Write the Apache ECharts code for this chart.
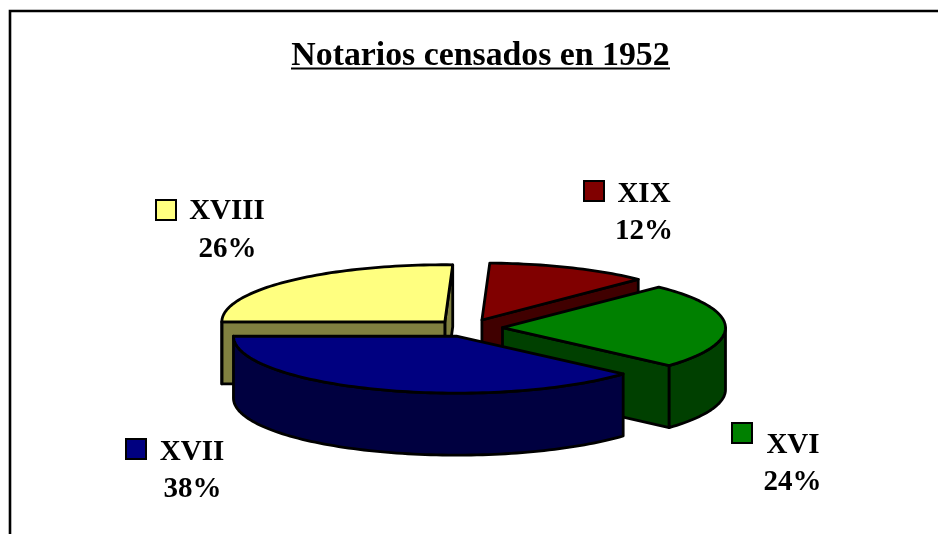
<!DOCTYPE html>
<html>
<head>
<meta charset="utf-8">
<style>html,body{margin:0;padding:0;background:#fff}#chart{width:938px;height:534px}</style>
<script src="https://cdn.jsdelivr.net/npm/echarts@6/dist/echarts.min.js"></script>
</head>
<body>
<div id="chart"></div>
<script>
// Data (clockwise from the first slice)
const titleText = 'Notarios censados en 1952';
const categories = ['XVI', 'XVII', 'XVIII', 'XIX'];
const shares = [24.2, 38.4, 25.6, 11.8];
const topColors = ['#008000', '#000080', '#FFFF80', '#800000'];
const sideColors = ['#004000', '#000040', '#808040', '#400000'];

// Layout of the tilted, exploded pie
const pie = { cx: 468.5, cy: 328, rx: 223, ry: 57, depth: 62, explode: 34, startAngle: 45.5 };
const FONT_LABEL = 'bold 29px "Liberation Serif", serif';
const OUTLINE = { stroke: '#000', lineWidth: 2.8, lineJoin: 'round' };

// Legend-key and text anchors per slice (swatch left/top, name x/y, percent x/y)
const labelLayout = [
  { sx: 732, sy: 423, nx: 793, ny: 445.5, px: 792.5, py: 483 },
  { sx: 126, sy: 439, nx: 192, ny: 452.5, px: 192.5, py: 490 },
  { sx: 156, sy: 200, nx: 227, ny: 211.5, px: 227.5, py: 250 },
  { sx: 584, sy: 181, nx: 644, ny: 194.5, px: 644, py: 232 }
];
const SWATCH = 20;

const total = shares.reduce(function (a, b) { return a + b; }, 0);
let running = pie.startAngle;
const slices = shares.map(function (v, i) {
  const span = v / total * 360;
  const s = { index: i, from: running - span, to: running };
  running -= span;
  s.mid = (s.from + s.to) / 2;
  return s;
});
function rad(d) { return d * Math.PI / 180; }
function project(ox, oy, deg, r) {
  return [ox + Math.cos(rad(deg)) * pie.rx * r, oy - Math.sin(rad(deg)) * pie.ry * r];
}
function arc(ox, oy, from, to) {
  const pts = [];
  const n = Math.max(2, Math.ceil(Math.abs(to - from) / 1.5));
  for (let k = 0; k <= n; k++) pts.push(project(ox, oy, from + (to - from) * k / n, 1));
  return pts;
}
// back slices are painted first
const paintOrder = slices.slice().sort(function (a, b) {
  return Math.sin(rad(b.mid)) - Math.sin(rad(a.mid));
});

function poly(points, fill) {
  return { type: 'polygon', shape: { points: points }, style: Object.assign({ fill: fill }, OUTLINE) };
}
function wallBetween(a, b, fill) {
  return poly([a, b, [b[0], b[1] + pie.depth], [a[0], a[1] + pie.depth]], fill);
}

function renderSlice(params, api) {
  const s = paintOrder[api.value(0)];
  const side = sideColors[s.index], top = topColors[s.index];
  const ox = pie.cx + Math.cos(rad(s.mid)) * pie.explode;
  const oy = pie.cy - Math.sin(rad(s.mid)) * pie.explode * pie.ry / pie.rx;
  const apex = [ox, oy];
  const children = [];
  // straight cut walls, only those facing the viewer
  if (Math.cos(rad(s.from)) > 0.001) children.push(wallBetween(apex, project(ox, oy, s.from, 1), side));
  if (Math.cos(rad(s.to)) < -0.001) children.push(wallBetween(apex, project(ox, oy, s.to, 1), side));
  // rim wall: only the part that faces the viewer (angles -180..0)
  for (const shift of [0, -360, 360]) {
    const a = Math.max(s.from + shift, -180), b = Math.min(s.to + shift, 0);
    if (b > a) {
      const upper = arc(ox, oy, a, b);
      const lower = upper.map(function (p) { return [p[0], p[1] + pie.depth]; }).reverse();
      children.push(poly(upper.concat(lower), side));
    }
  }
  // top face
  children.push(poly([apex].concat(arc(ox, oy, s.from, s.to)), top));
  return { type: 'group', children: children };
}

function renderLabel(params, api) {
  const i = api.value(0);
  const l = labelLayout[i];
  return {
    type: 'group',
    children: [
      { type: 'rect', shape: { x: l.sx, y: l.sy, width: SWATCH, height: SWATCH },
        style: { fill: topColors[i], stroke: '#000', lineWidth: 2 } },
      { type: 'text', style: { text: categories[i], x: l.nx, y: l.ny, font: FONT_LABEL, fill: '#000', align: 'center', verticalAlign: 'middle' } },
      { type: 'text', style: { text: Math.round(shares[i]) + '%', x: l.px, y: l.py, font: FONT_LABEL, fill: '#000', align: 'center', verticalAlign: 'middle' } }
    ]
  };
}

const chart = echarts.init(document.getElementById('chart'), null, { renderer: 'canvas' });
chart.setOption({
  animation: false,
  backgroundColor: '#fff',
  title: {
    text: titleText, left: 475.5, top: 34, textAlign: 'center',
    textStyle: { fontFamily: '"Liberation Serif", serif', fontWeight: 'bold', fontSize: 33.8, color: '#000' }
  },
  tooltip: { show: false },
  graphic: [
    { type: 'rect', z: 0, shape: { x: 10, y: 11, width: 1100, height: 800 }, style: { fill: 'none', stroke: '#000', lineWidth: 2.6 } },
    { type: 'line', z: 5, shape: { x1: 291, y1: 68.5, x2: 670, y2: 68.5 }, style: { stroke: '#000', lineWidth: 2 } }
  ],
  series: [
    { type: 'custom', coordinateSystem: 'none', renderItem: renderSlice, silent: true,
      data: paintOrder.map(function (s, i) { return [i, shares[s.index]]; }) },
    { type: 'custom', coordinateSystem: 'none', renderItem: renderLabel, silent: true,
      data: categories.map(function (c, i) { return [i, shares[i]]; }) }
  ]
});
</script>
</body>
</html>
